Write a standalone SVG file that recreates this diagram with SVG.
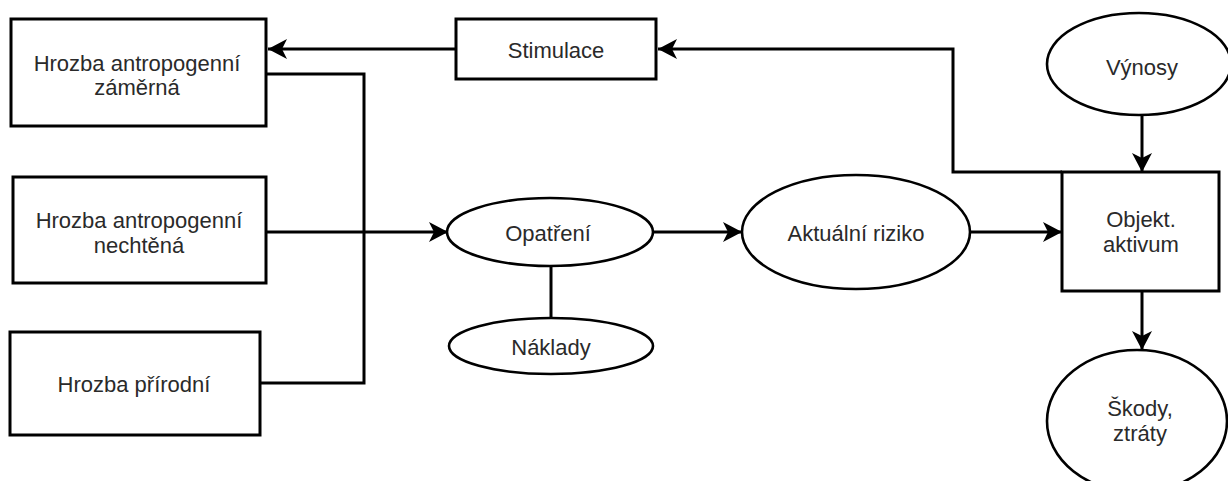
<svg xmlns="http://www.w3.org/2000/svg" width="1228" height="481" viewBox="0 0 1228 481">
  <style>
    .shape { fill: #ffffff; stroke: #000000; stroke-width: 3; }
    .oval { fill: #ffffff; stroke: #000000; stroke-width: 2.6; }
    .link { fill: none; stroke: #000000; stroke-width: 3; }
    .label { font-family: "Liberation Sans", Arial, sans-serif; font-size: 22px; fill: #2a2a2a; text-anchor: middle; }
  </style>
  <defs>
    <marker id="arrow" viewBox="0 0 20 20" refX="19" refY="10" markerWidth="20" markerHeight="20" markerUnits="userSpaceOnUse" orient="auto">
      <path d="M19 10 L0 0 L5 10 L0 20 Z" fill="#000000"/>
    </marker>
  </defs>
  <rect width="1228" height="481" fill="#ffffff"/>

  <!-- connectors -->
  <g id="connectors">
    <path class="link" d="M456 49 H268" marker-end="url(#arrow)"/>
    <path class="link" d="M1062 172 H953 V49 H658" marker-end="url(#arrow)"/>
    <path class="link" d="M266 74 H364 V232"/>
    <path class="link" d="M260 383 H364 V232"/>
    <path class="link" d="M266 232 H448" marker-end="url(#arrow)"/>
    <path class="link" d="M551 266 V318"/>
    <path class="link" d="M653 232 H742" marker-end="url(#arrow)"/>
    <path class="link" d="M971 232 H1062" marker-end="url(#arrow)"/>
    <path class="link" d="M1142 116 V172" marker-end="url(#arrow)"/>
    <path class="link" d="M1142 291 V350" marker-end="url(#arrow)"/>
  </g>

  <g id="hrozba-zamerna">
    <rect class="shape" x="11" y="19" width="255" height="107"/>
    <text class="label" x="137" y="71">Hrozba antropogenní</text>
    <text class="label" x="137" y="95">záměrná</text>
  </g>

  <g id="hrozba-nechtena">
    <rect class="shape" x="13" y="177" width="253" height="106"/>
    <text class="label" x="139" y="228">Hrozba antropogenní</text>
    <text class="label" x="139" y="253">nechtěná</text>
  </g>

  <g id="hrozba-prirodni">
    <rect class="shape" x="10" y="332" width="250" height="103"/>
    <text class="label" x="134" y="392">Hrozba přírodní</text>
  </g>

  <g id="stimulace">
    <rect class="shape" x="456" y="19" width="200" height="60"/>
    <text class="label" x="556" y="58">Stimulace</text>
  </g>

  <g id="opatreni">
    <ellipse class="oval" cx="550" cy="232" rx="103" ry="34"/>
    <text class="label" x="548" y="241">Opatření</text>
  </g>

  <g id="naklady">
    <ellipse class="oval" cx="551" cy="346" rx="102" ry="28"/>
    <text class="label" x="551" y="355">Náklady</text>
  </g>

  <g id="aktualni-riziko">
    <ellipse class="oval" cx="856" cy="232" rx="114" ry="57"/>
    <text class="label" x="856" y="241">Aktuální riziko</text>
  </g>

  <g id="vynosy">
    <ellipse class="oval" cx="1139" cy="64" rx="92" ry="51"/>
    <text class="label" x="1142" y="75">Výnosy</text>
  </g>

  <g id="objekt-aktivum">
    <rect class="shape" x="1062" y="172" width="157" height="119"/>
    <text class="label" x="1141" y="227">Objekt.</text>
    <text class="label" x="1141" y="252">aktivum</text>
  </g>

  <g id="skody-ztraty">
    <ellipse class="oval" cx="1137" cy="421" rx="90" ry="71"/>
    <text class="label" x="1140" y="416">Škody,</text>
    <text class="label" x="1140" y="441">ztráty</text>
  </g>
</svg>
